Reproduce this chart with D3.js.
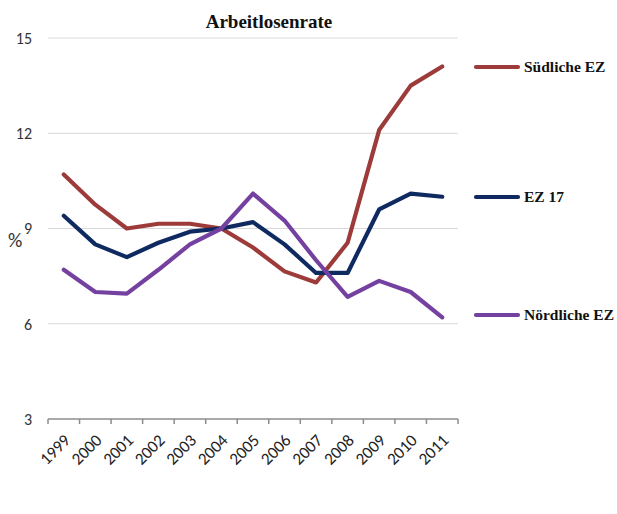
<!DOCTYPE html>
<html>
<head>
<meta charset="utf-8">
<script src="https://cdn.jsdelivr.net/npm/d3@7/dist/d3.min.js"></script>
<style>
  html, body { margin: 0; padding: 0; background: #fff; }
  svg { display: block; }
</style>
</head>
<body>
<svg id="chart" width="617" height="514"></svg>
<script>
// Unemployment rate by eurozone group, 1999–2011 (%)
const years = ["1999","2000","2001","2002","2003","2004","2005","2006","2007","2008","2009","2010","2011"];
const suedlicheEZ = [10.7, 9.75, 9.0, 9.15, 9.15, 9.0, 8.4, 7.65, 7.3, 8.55, 12.1, 13.5, 14.1];
const ez17        = [9.4, 8.5, 8.1, 8.55, 8.9, 9.0, 9.2, 8.5, 7.6, 7.6, 9.6, 10.1, 10.0];
const noerdlicheEZ = [7.7, 7.0, 6.95, 7.7, 8.5, 9.0, 10.1, 9.25, 8.0, 6.85, 7.35, 7.0, 6.2];
const seriesNames = ["Südliche EZ", "EZ 17", "Nördliche EZ"];
const yTicks = [3, 6, 9, 12, 15];

const colors = ["#9c3b39", "#0f2a60", "#7441a0"];
const seriesData = [suedlicheEZ, ez17, noerdlicheEZ];

const sans = "Carlito, 'Open Sans', 'Liberation Sans', sans-serif";
const serif = "'Liberation Serif', 'DejaVu Serif', serif";

const svg = d3.select("#chart");
const plot = { left: 48, right: 458, top: 38, bottom: 419 };

const x = d3.scaleBand().domain(years).range([plot.left, plot.right]);
const y = d3.scaleLinear().domain([3, 15]).range([plot.bottom, plot.top]);

// Horizontal gridlines
svg.append("g")
  .selectAll("line")
  .data(yTicks.filter(d => d !== 3))
  .join("line")
  .attr("x1", plot.left).attr("x2", plot.right)
  .attr("y1", d => y(d)).attr("y2", d => y(d))
  .attr("stroke", "#d9d9d9").attr("stroke-width", 1.2);

// Y axis labels
svg.append("g")
  .selectAll("text")
  .data(yTicks)
  .join("text")
  .attr("x", 32)
  .attr("y", d => y(d))
  .attr("dy", "0.36em")
  .attr("text-anchor", "end")
  .attr("font-family", sans)
  .attr("font-size", 16)
  .attr("fill", "#333")
  .text(d => d);

// Y axis unit
svg.append("text")
  .attr("x", 8).attr("y", 247)
  .attr("font-family", sans)
  .attr("font-size", 20)
  .attr("fill", "#333")
  .text("%");

// X axis with band-edge ticks
const xAxis = svg.append("g").attr("transform", `translate(0,${plot.bottom})`);
xAxis.append("line")
  .attr("x1", plot.left).attr("x2", plot.right)
  .attr("y1", 0).attr("y2", 0)
  .attr("stroke", "#8c8c8c").attr("stroke-width", 1.5);
const edges = years.map(d => x(d)).concat([x(years[years.length - 1]) + x.bandwidth()]);
xAxis.selectAll("line.tick")
  .data(edges)
  .join("line")
  .attr("class", "tick")
  .attr("x1", d => d).attr("x2", d => d)
  .attr("y1", 0).attr("y2", 5)
  .attr("stroke", "#8c8c8c").attr("stroke-width", 1.5);
xAxis.selectAll("text")
  .data(years)
  .join("text")
  .attr("transform", d => `translate(${x(d) + x.bandwidth() / 2 - 1},${14}) rotate(-45)`)
  .attr("text-anchor", "end")
  .attr("dy", "0.7em")
  .attr("font-family", sans)
  .attr("font-size", 17)
  .attr("fill", "#222")
  .text(d => d);

// Series lines
const line = d3.line()
  .x((d, i) => x(years[i]) + x.bandwidth() / 2)
  .y(d => y(d));

svg.append("g")
  .selectAll("path")
  .data(seriesData)
  .join("path")
  .attr("d", d => line(d))
  .attr("fill", "none")
  .attr("stroke", (d, i) => colors[i])
  .attr("stroke-width", 4.2)
  .attr("stroke-linejoin", "round")
  .attr("stroke-linecap", "round");

// Title
svg.append("text")
  .attr("x", 269).attr("y", 28)
  .attr("text-anchor", "middle")
  .attr("font-family", serif)
  .attr("font-weight", "bold")
  .attr("font-size", 19)
  .attr("fill", "#111")
  .text("Arbeitlosenrate");

// Legend, each entry beside its series
const legendY = [67, 197, 315];
const legend = svg.append("g")
  .selectAll("g")
  .data(seriesNames)
  .join("g")
  .attr("transform", (d, i) => `translate(0,${legendY[i]})`);
legend.append("line")
  .attr("x1", 476).attr("x2", 518)
  .attr("y1", 0).attr("y2", 0)
  .attr("stroke", (d, i) => colors[i])
  .attr("stroke-width", 4.2)
  .attr("stroke-linecap", "round");
legend.append("text")
  .attr("x", 524).attr("y", 0)
  .attr("dy", "0.35em")
  .attr("font-family", serif)
  .attr("font-weight", "bold")
  .attr("font-size", 15.5)
  .attr("fill", "#111")
  .text(d => d);
</script>
</body>
</html>
